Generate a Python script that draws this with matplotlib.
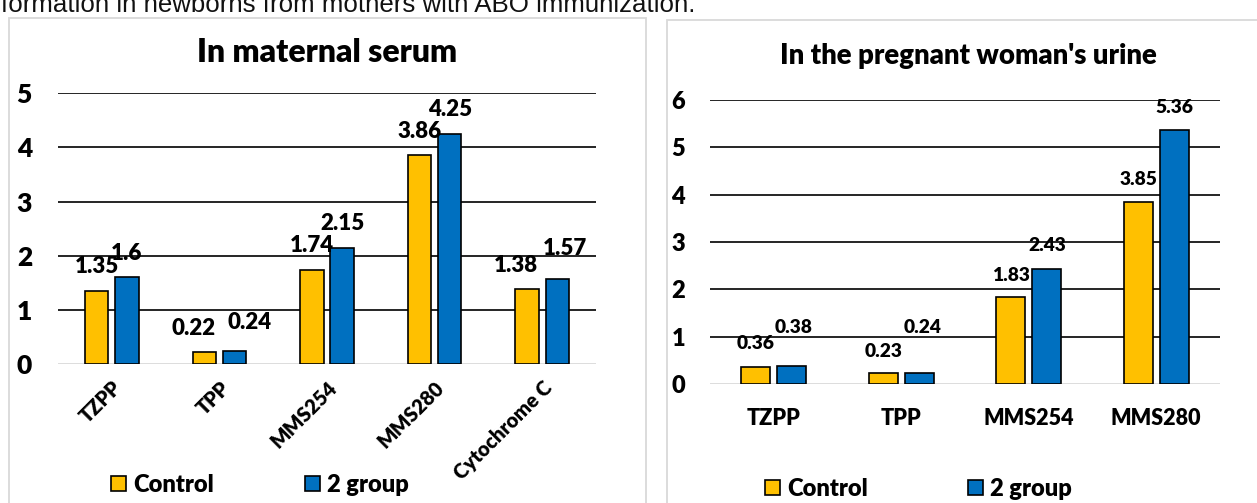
import matplotlib
matplotlib.use("Agg")
import matplotlib.pyplot as plt
from matplotlib.patches import Rectangle

# ---- data ----
serum_categories = ["TZPP", "TPP", "MMS254", "MMS280", "Cytochrome C"]
serum_control = [1.35, 0.22, 1.74, 3.86, 1.38]
serum_group2 = [1.6, 0.24, 2.15, 4.25, 1.57]

urine_categories = ["TZPP", "TPP", "MMS254", "MMS280"]
urine_control = [0.36, 0.23, 1.83, 3.85]
urine_group2 = [0.38, 0.24, 2.43, 5.36]

series_names = ["Control", "2 group"]
serum_yticks = [0, 1, 2, 3, 4, 5]
urine_yticks = [0, 1, 2, 3, 4, 5, 6]

# ---- style ----
W, H = 1257, 503
DPI = 100
PT = 72 / DPI          # points per pixel
YELLOW = "#FFC000"
BLUE = "#0070C0"
FONT = "Lato"
WEIGHT = "heavy"

fig = plt.figure(figsize=(W / DPI, H / DPI), dpi=DPI)
fig.patch.set_facecolor("white")


def fx(px):
    return px / W


def fy(py):
    return (H - py) / H


# caption line running off the top edge
fig.text(fx(1), fy(12), "formation in newborns from mothers with ABO immunization.",
         fontsize=18.6, family="Liberation Sans", color="#111111",
         ha="left", va="baseline")

# panel frames
fig.patches.append(Rectangle((fx(9), fy(520)), fx(646 - 9), (520 - 18) / H,
                             transform=fig.transFigure, fill=False,
                             edgecolor="#d9d9d9", lw=1.3))
fig.patches.append(Rectangle((fx(667), fy(520)), fx(1300 - 667), (520 - 20) / H,
                             transform=fig.transFigure, fill=False,
                             edgecolor="#d9d9d9", lw=1.3))


def draw_panel(ax, cats, ctrl, grp, yticks, width, offset, label_fs,
               tick_fs, xtick_fs, ctrl_offsets, grp_offsets, rotate):
    x = list(range(len(cats)))
    xc = [i - offset for i in x]
    xg = [i + offset for i in x]
    ax.bar(xc, ctrl, width, color=YELLOW, edgecolor="black", lw=1.2,
           zorder=3, label=series_names[0])
    ax.bar(xg, grp, width, color=BLUE, edgecolor="black", lw=1.2,
           zorder=3, label=series_names[1])
    ax.set_xlim(-0.5, len(cats) - 0.5)
    ax.set_ylim(yticks[0], yticks[-1])
    ax.set_yticks(yticks)
    ax.set_yticklabels([str(t) for t in yticks], fontsize=tick_fs,
                       fontweight=WEIGHT, family=FONT)
    ax.set_xticks(x)
    if rotate:
        ax.set_xticklabels(cats, rotation=45, ha="right",
                           rotation_mode="anchor", fontsize=xtick_fs,
                           fontweight=WEIGHT, family=FONT)
    else:
        ax.set_xticklabels(cats, fontsize=xtick_fs, fontweight=WEIGHT,
                           family=FONT)
    for s in ax.spines.values():
        s.set_visible(False)
    ax.tick_params(axis="both", length=0)
    ax.yaxis.grid(True, color="black", lw=1.2, zorder=1)
    ax.set_axisbelow(True)
    ax.get_ygridlines()[0].set_visible(False)
    ax.axhline(0, color="#d9d9d9", lw=2.0, zorder=2)
    ax.set_facecolor("none")
    for xs, vals, offs in ((xc, ctrl, ctrl_offsets), (xg, grp, grp_offsets)):
        for xi, v, (dx, dy) in zip(xs, vals, offs):
            ax.annotate(f"{v:g}", xy=(xi, v), xytext=(dx, dy),
                        textcoords="offset pixels", ha="center",
                        va="center", fontsize=label_fs, fontweight=WEIGHT,
                        family=FONT, zorder=4)


def draw_legend(y, entries, fs):
    # entries: (square left px, text left px, colour, label)
    for sq_x, tx_x, color, name in entries:
        fig.patches.append(Rectangle((fx(sq_x), fy(y + 7.5)), fx(15), 15 / H,
                                     transform=fig.transFigure,
                                     facecolor=color, edgecolor="black",
                                     lw=1.2))
        fig.text(fx(tx_x), fy(y), name, fontsize=fs, fontweight=WEIGHT,
                 family=FONT, ha="left", va="center_baseline")


# ---- left panel: maternal serum ----
axL = fig.add_axes([fx(58), fy(364), fx(538), (364 - 93.3) / H])
draw_panel(axL, serum_categories, serum_control, serum_group2, serum_yticks,
           width=0.218, offset=0.14, label_fs=16, tick_fs=19, xtick_fs=14.5,
           ctrl_offsets=[(0, 24), (-11, 24), (0, 24), (0, 24), (-11, 24)],
           grp_offsets=[(0, 24), (15, 29), (0, 24), (0, 24), (8, 31)],
           rotate=True)
axL.tick_params(axis="y", pad=26 * PT)
axL.tick_params(axis="x", pad=14 * PT)
fig.text(fx(327), fy(53), "In maternal serum", fontsize=23, fontweight=WEIGHT,
         family=FONT, ha="center", va="center")
draw_legend(483, [(111, 133, YELLOW, series_names[0]),
                  (305, 327, BLUE, series_names[1])], 17)

# ---- right panel: pregnant woman's urine ----
axR = fig.add_axes([fx(710), fy(384), fx(510), (384 - 100) / H])
draw_panel(axR, urine_categories, urine_control, urine_group2, urine_yticks,
           width=0.227, offset=0.142, label_fs=13.8, tick_fs=17, xtick_fs=15.5,
           ctrl_offsets=[(0, 23), (0, 22), (0, 22), (0, 22)],
           grp_offsets=[(2, 39), (3, 45), (0, 23), (0, 23)],
           rotate=False)
axR.tick_params(axis="y", pad=25 * PT)
axR.tick_params(axis="x", pad=24 * PT)
fig.text(fx(968), fy(56), "In the pregnant woman's urine", fontsize=19.8,
         fontweight=WEIGHT, family=FONT, ha="center", va="center")
draw_legend(487, [(765, 787, YELLOW, series_names[0]),
                  (968, 990, BLUE, series_names[1])], 17)

fig.savefig("out.png", dpi=DPI, facecolor="white")
